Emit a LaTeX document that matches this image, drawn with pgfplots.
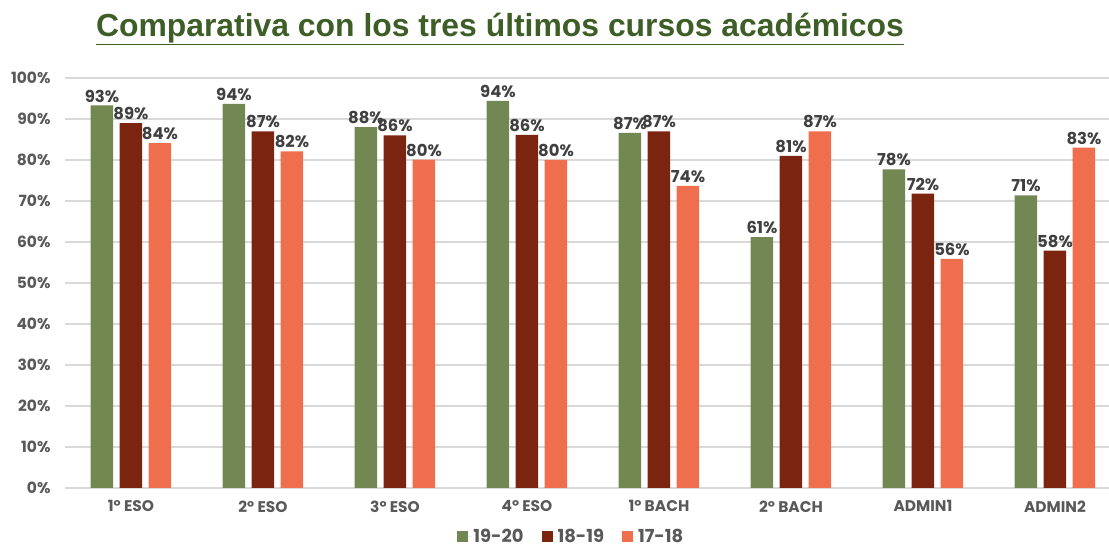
\documentclass[border=0pt]{standalone}
\usepackage{pgfplots}
\pgfplotsset{compat=1.18}
\usepackage{fontspec}
\setmainfont{Poppins}
\newfontfamily\titlefont{Liberation Sans}
\definecolor{cgreen}{HTML}{728751}
\definecolor{cred}{HTML}{7B2410}
\definecolor{csalmon}{HTML}{EE6E4D}
\definecolor{ctitle}{HTML}{3E5E27}
\definecolor{ctext}{HTML}{595959}
\definecolor{clabel}{HTML}{404040}
\definecolor{cgrid}{HTML}{D9D9D9}

\begin{document}
\begin{tikzpicture}
\path[use as bounding box] (0bp,0bp) rectangle (1109bp,549bp);
\node[font=\titlefont\bfseries\fontsize{32}{36}\selectfont, text=ctitle]
  at (500bp,520bp) {\underline{Comparativa con los tres últimos cursos académicos}};

\begin{axis}[
    at={(65bp,61bp)}, anchor=south west,
    scale only axis,
    width=1044bp, height=410bp,
    xmin=-0.5, xmax=7.409,
    ymin=0, ymax=100,
    ybar=6.5bp, bar width=22.5bp,
    axis line style={draw=none},
    major tick length=0pt,
    ymajorgrids, grid style={cgrid, line width=1.5bp},
    ytick={0,10,...,100},
    yticklabels={0\%,10\%,20\%,30\%,40\%,50\%,60\%,70\%,80\%,90\%,100\%},
    xtick={0,...,7},
    xticklabels={1º ESO,2º ESO,3º ESO,4º ESO,1º BACH,2º BACH,ADMIN1,ADMIN2},
    tick label style={font=\bfseries\fontsize{15.5}{18}\selectfont, text=ctext},
    yticklabel style={xshift=-11bp},
    xticklabel style={yshift=-9bp},
    nodes near coords={\pgfmathprintnumber[fixed,precision=0,assume math mode=true]{\pgfplotspointmeta}\%},
    nodes near coords style={font=\bfseries\fontsize{16.5}{18}\selectfont, text=clabel, inner sep=3bp},
    legend columns=-1,
    legend style={draw=none, at={(0.485,-0.118)}, anchor=center,
        font=\bfseries\fontsize{18}{20}\selectfont, text=ctext,
        /tikz/every even column/.append style={column sep=16bp}},
    legend image code/.code={\fill[#1] (0bp,-5.5bp) rectangle (11bp,5.5bp); \path (0bp,0bp) -- (14bp,0bp);},
]
% 19-20
\addplot[fill=cgreen, draw=none] coordinates {
    (0,93.3) (1,93.7) (2,88.0) (3,94.4) (4,86.6) (5,61.2) (6,77.7) (7,71.4)
};
\addlegendentry{19-20}
% 18-19
\addplot[fill=cred, draw=none] coordinates {
    (0,89.0) (1,87.0) (2,86.0) (3,86.1) (4,87.0) (5,81.0) (6,71.8) (7,57.9)
};
\addlegendentry{18-19}
% 17-18
\addplot[fill=csalmon, draw=none] coordinates {
    (0,84.1) (1,82.1) (2,80.1) (3,80.0) (4,73.7) (5,87.0) (6,55.9) (7,83.0)
};
\addlegendentry{17-18}
\end{axis}
\end{tikzpicture}
\end{document}
